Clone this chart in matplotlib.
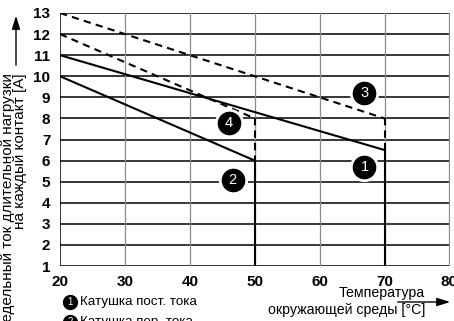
import matplotlib
matplotlib.use("Agg")
import matplotlib.pyplot as plt

plt.rcParams['font.family'] = ['Liberation Sans', 'DejaVu Sans']

# curves: start/end temperature and current
c1_x = [20, 70]
c1_y = [11, 6.5]
c2_x = [20, 50]
c2_y = [10, 6]
c3_x = [20, 70]
c3_y = [13, 8]
c4_x = [20, 50]
c4_y = [12, 8]

x_ticks = [20, 30, 40, 50, 60, 70, 80]
y_ticks = list(range(1, 14))

labels = ['1', '2', '3', '4']
label_x = [66.9, 46.6, 66.9, 46.0]
label_y = [5.7, 5.1, 9.2, 7.8]

fig = plt.figure(figsize=(4.54, 3.21), dpi=100)
ax = fig.add_axes([60 / 454, 55 / 321, 389.5 / 454, 253 / 321])
ax.set_xlim(20, 80)
ax.set_ylim(1, 13)

# grid
for y in y_ticks:
    ax.axhline(y, color='black', lw=1.1, zorder=1)
for x in x_ticks[1:]:
    ax.axvline(x, color='#8a8a8a', lw=0.9, zorder=1)

for s in ax.spines.values():
    s.set_visible(False)
ax.axvline(20, color='black', lw=1.1, zorder=1)

lw = 1.5
dash = (0, (3.5, 2.5))
# solid curves + vertical drops
ax.plot(c1_x, c1_y, color='black', lw=lw, zorder=3)
ax.plot([c1_x[1], c1_x[1]], [c1_y[1], 1], color='black', lw=lw, zorder=3)
ax.plot(c2_x, c2_y, color='black', lw=lw, zorder=3)
ax.plot([c2_x[1], c2_x[1]], [c2_y[1], 1], color='black', lw=lw, zorder=3)
# dashed curves + vertical drops
ax.plot(c3_x, c3_y, color='black', lw=lw, ls=dash, zorder=3)
ax.plot([c3_x[1], c3_x[1]], [c3_y[1], c1_y[1]], color='black', lw=lw, ls=dash, zorder=3)
ax.plot(c4_x, c4_y, color='black', lw=lw, ls=dash, zorder=3)
ax.plot([c4_x[1], c4_x[1]], [c4_y[1], c2_y[1]], color='black', lw=lw, ls=dash, zorder=3)

# numbered circles
ax.plot(label_x, label_y, 'o', ms=20, color='white', zorder=4, clip_on=False)
ax.plot(label_x, label_y, 'o', ms=16, color='black', zorder=5, clip_on=False)
for t, x, y in zip(labels, label_x, label_y):
    ax.text(x, y, t, color='white', fontsize=10.5, ha='center', va='center', zorder=6)

ax.set_xticks(x_ticks)
ax.set_yticks(y_ticks)
ax.tick_params(length=0, labelsize=11)
ax.tick_params(axis='y', pad=7)
ax.tick_params(axis='x', pad=6.5)
for lab in ax.get_xticklabels() + ax.get_yticklabels():
    lab.set_fontweight('bold')

# y label with arrow
fig.text(14 / 454, 1 - 73 / 321,
         'Предельный ток длительной нагрузки\nна каждый контакт [A]',
         rotation=90, ha='center', va='top', multialignment='right', fontsize=11,
         linespacing=0.85)
ax.annotate('', xy=(16 / 454, 1 - 13 / 321), xytext=(16 / 454, 1 - 68 / 321),
            xycoords='figure fraction',
            arrowprops=dict(arrowstyle='-|>,head_length=0.8,head_width=0.25', color='black', lw=1.0))

# x label with arrow
fig.text(425 / 454, 1 - 293 / 321, 'Температура', ha='right', va='center', fontsize=10.2)
fig.text(425 / 454, 1 - 310 / 321, 'окружающей среды [°C]', ha='right', va='center', fontsize=10.2)
ax.annotate('', xy=(453 / 454, 1 - 302 / 321), xytext=(395 / 454, 1 - 302 / 321),
            xycoords='figure fraction',
            arrowprops=dict(arrowstyle='-|>,head_length=0.8,head_width=0.25', color='black', lw=1.0))

# legend entries
legend_text = ['Катушка пост. тока', 'Катушка пер. тока']
legend_y = [302, 322]
for i, (t, yy) in enumerate(zip(legend_text, legend_y)):
    fy = 1 - yy / 321
    fig.lines.append(plt.Line2D([70 / 454], [fy], marker='o', ms=10, color='black',
                                transform=fig.transFigure))
    fig.text(70 / 454, fy, str(i + 1), color='white', fontsize=7, ha='center', va='center')
    fig.text(80 / 454, fy, t, ha='left', va='center', fontsize=9.6)

fig.savefig('out.png', dpi=100)
